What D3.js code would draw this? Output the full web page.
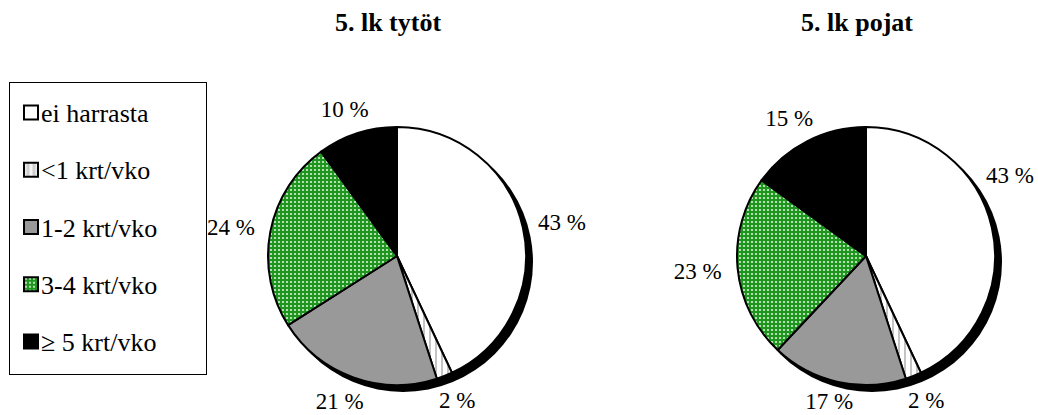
<!DOCTYPE html>
<html><head><meta charset="utf-8">
<script src="https://cdn.jsdelivr.net/npm/d3@7"></script>
<style>
body{margin:0;background:#fff}svg{display:block}
</style>
</head><body>
<svg id="c" width="1038" height="415"></svg>
<script>
const categories = ["ei harrasta", "<1 krt/vko", "1-2 krt/vko", "3-4 krt/vko", "\u2265 5 krt/vko"];
const girls = [43, 2, 21, 24, 10];
const boys = [43, 2, 17, 23, 15];
const titles = ["5. lk tytöt", "5. lk pojat"];

const FONT = '"Liberation Serif", "Times New Roman", serif';
const W = 1038, H = 415;
const svg = d3.select("#c");
const defs = svg.append("defs");
const pg = defs.append("pattern").attr("id","green").attr("patternUnits","userSpaceOnUse").attr("width",4).attr("height",4);
pg.append("rect").attr("width",4).attr("height",4).attr("fill","#1e961e");
pg.append("circle").attr("cx",2).attr("cy",2).attr("r",1.1).attr("fill","#d8f2d8");
const ps = defs.append("pattern").attr("id","stripe").attr("patternUnits","userSpaceOnUse").attr("width",6).attr("height",6);
ps.append("rect").attr("width",6).attr("height",6).attr("fill","#ffffff");
ps.append("rect").attr("x",2).attr("width",2).attr("height",6).attr("fill","#c4c4c4");
const lgGrad = defs.append("linearGradient").attr("id","stripeL");
[["0%","#ffffff"],["30%","#c8c8c8"],["50%","#ffffff"],["70%","#c8c8c8"],["100%","#ffffff"]].forEach(s=>lgGrad.append("stop").attr("offset",s[0]).attr("stop-color",s[1]));

const fills = ["#ffffff","url(#stripe)","#999999","url(#green)","#000000"];
const legendFills = ["#ffffff","url(#stripeL)","#999999","url(#green)","#000000"];
const color = d3.scaleOrdinal().domain(categories).range(fills);
const lcolor = d3.scaleOrdinal().domain(categories).range(legendFills);

const R = 129, GAP = 16;
const pie = d3.pie().sort(null).value(d=>d.v);
const arc = d3.arc().innerRadius(0).outerRadius(R);

function drawPie(values, cx, cy, title, tx){
  const g = svg.append("g").attr("transform",`translate(${cx},${cy})`);
  g.append("circle").attr("cx",6).attr("cy",6).attr("r",R+1).attr("fill","#000");
  const data = pie(categories.map((c,i)=>({c, v: values[i]})));
  g.selectAll("path").data(data).join("path")
    .attr("d",arc).attr("fill",d=>color(d.data.c))
    .attr("stroke","#000").attr("stroke-width",2).attr("stroke-linejoin","round");
  const lbl = g.selectAll("text.lbl").data(data).join("text").attr("class","lbl")
    .attr("text-anchor","middle").attr("dy","0.35em")
    .attr("font-size",23).style("font-family",FONT)
    .text(d=>d.data.v+" %");
  lbl.each(function(d){
    const w = this.getComputedTextLength(), hh = 10;
    let a = (d.startAngle + d.endAngle)/2;
    const place = ang => {
      const sx = Math.sin(ang), sy = -Math.cos(ang);
      return [sx*(R+GAP) + sx*w/2, sy*(R+GAP) + sy*hh];
    };
    let p = place(a);
    // rotate toward the top if the label would leave the picture on the right
    let guard = 0;
    while (cx + p[0] + w/2 > W - 3 && guard++ < 90) { a -= Math.PI/180; p = place(a); }
    // keep the label inside the bottom edge
    p[1] = Math.min(p[1], H - 14 - cy);
    d3.select(this).attr("transform",`translate(${p[0]},${p[1]})`);
  });
  svg.append("text").attr("x",tx).attr("y",31).attr("text-anchor","middle")
    .attr("font-weight","bold").attr("font-size",26).style("font-family",FONT)
    .text(title);
}
drawPie(girls, 397, 256, titles[0], 388);
drawPie(boys, 866, 256, titles[1], 857);

// legend
const lg = svg.append("g");
lg.append("rect").attr("x",9.5).attr("y",82.5).attr("width",197).attr("height",292).attr("fill","#fff").attr("stroke","#000").attr("stroke-width",1);
const ly = d3.scalePoint().domain(categories).range([113,342]);
const items = lg.selectAll("g.item").data(categories).join("g").attr("class","item")
  .attr("transform",d=>`translate(0,${ly(d)})`);
items.append("rect").attr("x",24).attr("y",-7.5).attr("width",14).attr("height",14)
  .attr("fill",d=>lcolor(d)).attr("stroke","#000").attr("stroke-width",2);
items.append("text").attr("x",41).attr("dy","0.35em")
  .attr("font-size",26).style("font-family",FONT)
  .text(d=>d);
</script>
</body></html>
